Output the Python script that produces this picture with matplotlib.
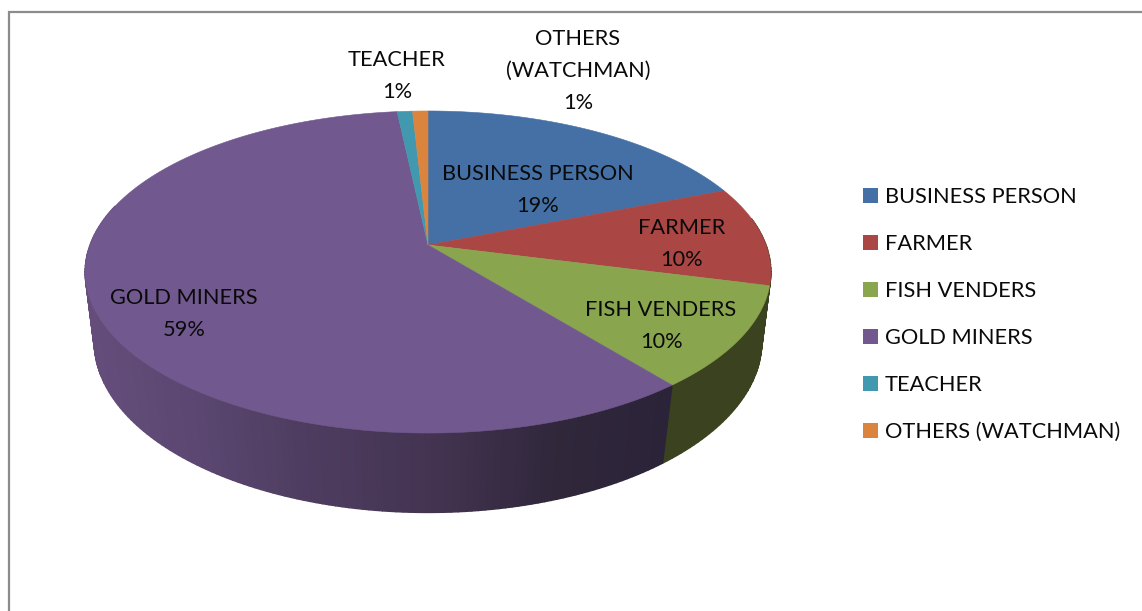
import numpy as np
import matplotlib
matplotlib.use("Agg")
import matplotlib.pyplot as plt
from matplotlib.patches import Patch, Polygon
from matplotlib.lines import Line2D

categories = ["BUSINESS PERSON", "FARMER", "FISH VENDERS", "GOLD MINERS", "TEACHER", "OTHERS (WATCHMAN)"]
shares = [19, 10, 10.2, 59.1, 0.85, 0.85]
data_labels = ["BUSINESS PERSON\n19%", "FARMER\n10%", "FISH VENDERS\n10%", "GOLD MINERS\n59%",
               "TEACHER\n1%", "OTHERS\n(WATCHMAN)\n1%"]
colors = ["#4470A6", "#AA4644", "#89A54E", "#71588F", "#4198AF", "#DB843D"]
label_xy = [(538, 189.5), (682, 244), (661, 326), (184, 314), (397, 75.5), (578, 71)]

plt.rcParams["font.family"] = ["Lato", "DejaVu Sans"]
FS = 15.7
W, H = 1142, 611
fig = plt.figure(figsize=(W / 100, H / 100), dpi=100)
ax = fig.add_axes([0, 0, 1, 1])
ax.set_xlim(0, W)
ax.set_ylim(H, 0)
ax.axis("off")

# frame
ax.add_line(Line2D([8.5, 8.5, W], [H, 11.5, 11.5], color="#8c8c8c", lw=1.6, solid_joinstyle="miter"))


def rim(theta, cx, cy, a, b, k):
    u, v = np.sin(theta), np.cos(theta)
    d = 1 + k * v
    return cx + a * u / d, cy - b * v / d


def top(t):
    return rim(t, 428, 245, 338, 156.5, 0.1677)


def bottom(t):
    return rim(t, 428, 316, 330, 167, 0.15)


def side_colour(x):
    xs = [90, 200, 300, 428, 560, 670]
    rs = [(0x64, 0x4d, 0x7a), (0x5a, 0x46, 0x70), (0x4e, 0x3d, 0x60), (0x44, 0x34, 0x52),
          (0x30, 0x27, 0x3b), (0x2b, 0x23, 0x38)]
    return tuple(np.interp(x, xs, [c[i] for c in rs]) / 255 for i in range(3))


edges = np.radians(np.cumsum([0] + shares) * 3.6)
side_colours = {1: "#3a421f", 2: "#3a421f"}
# side wall (front half only), built from slice angles
for i in [1, 2, 3]:
    lo = max(edges[i], np.radians(80))
    hi = min(edges[i + 1], np.radians(285))
    ts = np.linspace(lo, hi, max(2, int(np.degrees(hi - lo))))
    for t0, t1 in zip(ts[:-1], ts[1:]):
        x0, y0 = top(t0); x1, y1 = top(t1)
        x2, y2 = bottom(t1); x3, y3 = bottom(t0)
        c = side_colours.get(i) or side_colour((x0 + x1) / 2)
        ax.add_patch(Polygon([(x0, y0), (x1, y1), (x2, y2), (x3, y3)], closed=True, fc=c, ec=c, lw=1.0, zorder=2))

# top face; the apex is the image of the circle centre
for i, col in enumerate(colors):
    ts = np.linspace(edges[i], edges[i + 1], max(3, int(shares[i] * 8)))
    xs, ys = top(ts)
    poly = [(428, 245)] + list(zip(xs, ys))
    ax.add_patch(Polygon(poly, closed=True, fc=col, ec=col, lw=0.4, zorder=3))

for txt, (x, y) in zip(data_labels, label_xy):
    ax.text(x, y, txt, ha="center", va="center", fontsize=FS, color="#0a0a0a", linespacing=1.75, zorder=5)

handles = [Patch(facecolor=c, edgecolor=c, lw=0) for c in colors]
leg = ax.legend(handles, categories, loc="upper left", bbox_to_anchor=(863, 187),
                bbox_transform=ax.transData, frameon=False, fontsize=FS,
                handlelength=0.69, handleheight=0.69, handletextpad=0.32,
                labelspacing=1.24, borderpad=0, borderaxespad=0)
for t in leg.get_texts():
    t.set_color("#0a0a0a")

fig.savefig("out.png", dpi=100)
